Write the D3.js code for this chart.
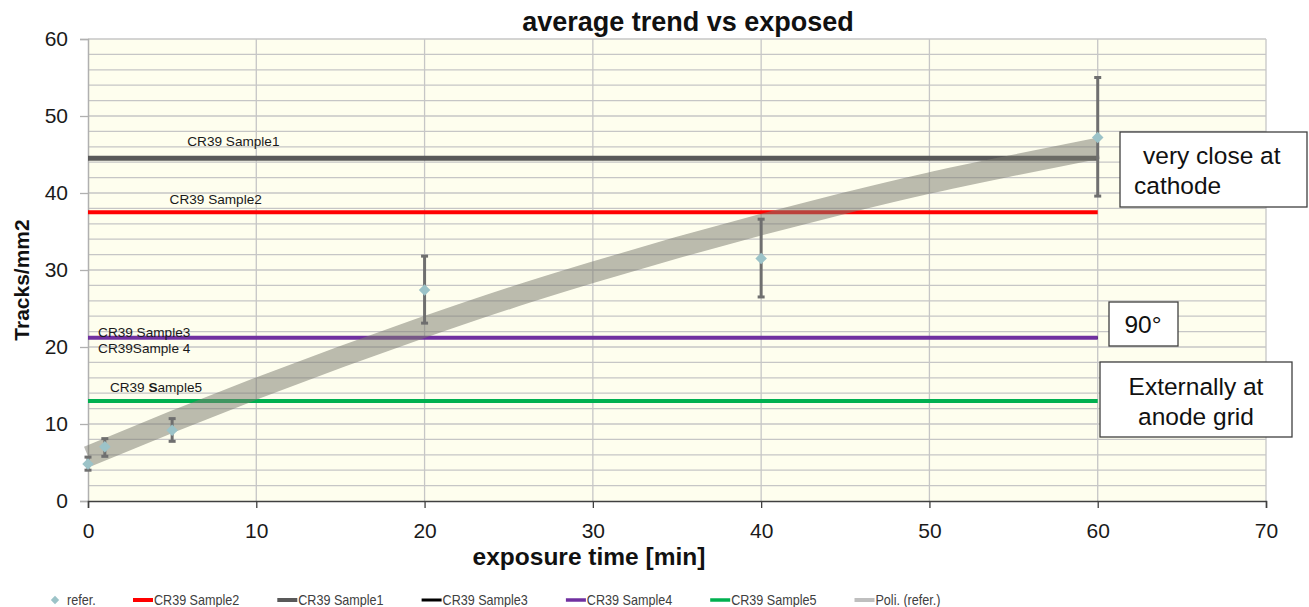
<!DOCTYPE html>
<html>
<head>
<meta charset="utf-8">
<script src="https://cdn.jsdelivr.net/npm/d3@7"></script>
<style>
  body { margin: 0; background: #fff; }
  svg { font-family: "Liberation Sans", Arial, sans-serif; }
</style>
</head>
<body>
<script>
const referTimes = [0, 1, 5, 20, 40, 60];
const referMean = [4.8, 7.05, 9.2, 27.4, 31.5, 47.2];
const referLow = [4.0, 5.8, 7.75, 23.1, 26.5, 39.6];
const referHigh = [5.7, 8.1, 10.7, 31.8, 36.6, 55.0];

// polynomial trend of refer. as drawn
const trendTimes = [0, 5, 10, 15, 20, 25, 30, 35, 40, 45, 50, 55, 60];
const trendValues = [5.8, 10.3, 14.6, 18.7, 22.6, 26.3, 29.7, 32.9, 35.9, 38.7, 41.3, 43.6, 45.8];

// CR39 sample levels (flat over the exposure span)
const sampleNames = ["CR39 Sample1", "CR39 Sample2", "CR39 Sample3", "CR39 Sample4", "CR39 Sample5"];
const sampleValues = [44.5, 37.5, 21.2, 21.2, 13.0];
const sampleSpan = [0, 60];

const xTicks = [0, 10, 20, 30, 40, 50, 60, 70];
const yTicks = [0, 10, 20, 30, 40, 50, 60];

const W = 1309, H = 607;
const svg = d3.select("body").append("svg").attr("width", W).attr("height", H);

const x = d3.scaleLinear().domain([0, 70]).range([88, 1266]);
const y = d3.scaleLinear().domain([0, 60]).range([501, 39]);

const sampleStyle = {
    "CR39 Sample1": { color: "#595959", width: 5 },
    "CR39 Sample2": { color: "#FF0000", width: 4 },
    "CR39 Sample3": { color: "#000000", width: 2.5 },
    "CR39 Sample4": { color: "#7030A0", width: 4 },
    "CR39 Sample5": { color: "#00B050", width: 4 },
};

// plot background
svg.append("rect")
    .attr("x", x(0)).attr("y", y(60))
    .attr("width", x(70) - x(0)).attr("height", y(0) - y(60))
    .attr("fill", "#FEFEEE");

// horizontal grid every 2
svg.append("g")
    .selectAll("line")
    .data(d3.range(2, 61, 2))
    .join("line")
    .attr("x1", x(0)).attr("x2", x(70))
    .attr("y1", (d) => y(d)).attr("y2", (d) => y(d))
    .attr("stroke", "#C6C6C6")
    .attr("stroke-width", 1.3);

// vertical grid every 10
svg.append("g")
    .selectAll("line")
    .data(xTicks.slice(1))
    .join("line")
    .attr("x1", (d) => x(d)).attr("x2", (d) => x(d))
    .attr("y1", y(0)).attr("y2", y(60))
    .attr("stroke", "#C6C6C6")
    .attr("stroke-width", 1.3);

// axes
let yAxis = svg.append("g")
    .attr("transform", `translate(${x(0)},0)`)
    .call(d3.axisLeft(y).tickValues(yTicks).tickSize(8).tickPadding(12));
yAxis.select(".domain").attr("stroke", "#B0B0B0").attr("stroke-width", 1.5);
yAxis.selectAll(".tick line").attr("stroke", "#B0B0B0").attr("stroke-width", 1.3);
yAxis.selectAll(".tick text")
    .attr("font-size", 21).attr("fill", "#1a1a1a")
    .attr("font-family", "Liberation Sans, Arial, sans-serif");

let xAxis = svg.append("g")
    .attr("transform", `translate(0,${y(0)})`)
    .call(d3.axisBottom(x).tickValues(xTicks).tickSize(7).tickPadding(15));
xAxis.select(".domain").attr("stroke", "#404040").attr("stroke-width", 1.5);
xAxis.selectAll(".tick line").attr("stroke", "#404040").attr("stroke-width", 1.3);
xAxis.selectAll(".tick text")
    .attr("font-size", 21).attr("fill", "#1a1a1a")
    .attr("font-family", "Liberation Sans, Arial, sans-serif");

// sample lines (Sample3 drawn first, Sample4 on top of it)
let order = [2, 3, 0, 1, 4];
svg.append("g")
    .selectAll("line")
    .data(order.map((i) => ({ name: sampleNames[i], v: sampleValues[i] })))
    .join("line")
    .attr("x1", x(sampleSpan[0])).attr("x2", x(sampleSpan[1]))
    .attr("y1", (d) => y(d.v)).attr("y2", (d) => y(d.v))
    .attr("stroke", (d) => sampleStyle[d.name].color)
    .attr("stroke-width", (d) => sampleStyle[d.name].width);

// trend band
let trendLine = d3.line()
    .x((d, i) => x(trendTimes[i]))
    .y((d) => y(d))
    .curve(d3.curveMonotoneX);
svg.append("path")
    .attr("d", trendLine(trendValues))
    .attr("fill", "none")
    .attr("stroke", "#7d7d72")
    .attr("stroke-opacity", 0.52)
    .attr("stroke-width", 21);

// error bars
let eb = svg.append("g").attr("stroke", "#6f6f6f");
eb.selectAll("line.v")
    .data(referTimes)
    .join("line")
    .attr("class", "v")
    .attr("x1", (d) => x(d)).attr("x2", (d) => x(d))
    .attr("y1", (d, i) => y(referLow[i])).attr("y2", (d, i) => y(referHigh[i]))
    .attr("stroke-width", 3);
["low", "high"].forEach(function (k) {
    let arr = k === "low" ? referLow : referHigh;
    eb.selectAll("line." + k)
        .data(referTimes)
        .join("line")
        .attr("class", k)
        .attr("x1", (d) => x(d) - 3.5).attr("x2", (d) => x(d) + 3.5)
        .attr("y1", (d, i) => y(arr[i])).attr("y2", (d, i) => y(arr[i]))
        .attr("stroke-width", 3);
});

// refer markers
let diamond = d3.symbol().type(d3.symbolDiamond2).size(85);
svg.append("g")
    .selectAll("path")
    .data(referTimes)
    .join("path")
    .attr("d", diamond)
    .attr("transform", (d, i) => `translate(${x(d)},${y(referMean[i])})`)
    .attr("fill", "#9CC3C8");

// labels on sample lines
let lab = svg.append("g").attr("font-size", 13.6).attr("fill", "#1a1a1a");
lab.append("text").attr("x", x(5.9)).attr("y", y(sampleValues[0]) - 12).text(sampleNames[0]);
lab.append("text").attr("x", x(4.85)).attr("y", y(sampleValues[1]) - 8).text(sampleNames[1]);
lab.append("text").attr("x", x(0.6)).attr("y", y(sampleValues[2]) - 1).text(sampleNames[2]);
lab.append("text").attr("x", x(0.6)).attr("y", y(sampleValues[3]) + 15).text("CR39Sample 4");
let s5 = lab.append("text").attr("x", x(1.3)).attr("y", y(sampleValues[4]) - 9);
s5.append("tspan").text("CR39 ");
s5.append("tspan").attr("font-weight", "bold").text("S");
s5.append("tspan").text("ample5");

// annotation boxes
function box(x0, y0, w, h, lines, anchor, tx, ty) {
    svg.append("rect")
        .attr("x", x0).attr("y", y0).attr("width", w).attr("height", h)
        .attr("fill", "#fff").attr("stroke", "#404040").attr("stroke-width", 1.3);
    let t = svg.append("text").attr("font-size", 24.5).attr("fill", "#111")
        .attr("text-anchor", anchor);
    lines.forEach(function (s, i) {
        t.append("tspan").attr("x", tx[i]).attr("y", ty[i]).text(s);
    });
}
box(1120, 132, 187, 75, ["very close at", "cathode"], "start", [1143, 1134], [164, 194]);
box(1109, 302, 69, 44, ["90°"], "middle", [1143], [333]);
box(1100, 362, 192, 75, ["Externally at", "anode grid"], "middle", [1196, 1196], [395, 425]);

// titles
svg.append("text")
    .attr("x", 688).attr("y", 31)
    .attr("text-anchor", "middle")
    .attr("font-size", 27).attr("font-weight", "bold").attr("fill", "#111")
    .text("average trend vs exposed");
svg.append("text")
    .attr("x", 589).attr("y", 565)
    .attr("text-anchor", "middle")
    .attr("font-size", 24.5).attr("font-weight", "bold").attr("fill", "#111")
    .text("exposure time [min]");
svg.append("text")
    .attr("transform", "translate(29,280) rotate(-90)")
    .attr("text-anchor", "middle")
    .attr("font-size", 21).attr("font-weight", "bold").attr("fill", "#111")
    .text("Tracks/mm2");

// legend
const legendItems = [
    { name: "refer.", kind: "marker", color: "#9CC3C8" },
    { name: "CR39 Sample2", kind: "line", color: "#FF0000", width: 4 },
    { name: "CR39 Sample1", kind: "line", color: "#595959", width: 4 },
    { name: "CR39 Sample3", kind: "line", color: "#000000", width: 3 },
    { name: "CR39 Sample4", kind: "line", color: "#7030A0", width: 3.5 },
    { name: "CR39 Sample5", kind: "line", color: "#00B050", width: 3.5 },
    { name: "Poli. (refer.)", kind: "line", color: "#BFBFBF", width: 4 },
];
let lg = svg.append("g").attr("transform", "translate(0,600)");
let li = lg.selectAll("g")
    .data(legendItems)
    .join("g")
    .attr("transform", (d, i) => `translate(${i === 0 ? 55 : 133 + (i - 1) * 144.3},0)`);
li.filter((d) => d.kind === "line")
    .append("line")
    .attr("x1", 0).attr("x2", 20)
    .attr("stroke", (d) => d.color)
    .attr("stroke-width", (d) => d.width);
li.filter((d) => d.kind === "marker")
    .append("path")
    .attr("d", d3.symbol().type(d3.symbolDiamond2).size(45))
    .attr("fill", (d) => d.color);
li.append("text")
    .attr("y", 5)
    .attr("font-size", 14)
    .attr("fill", "#404040")
    .attr("transform", "scale(0.9,1)")
    .attr("x", (d) => (d.kind === "marker" ? 13.3 : 23.3))
    .text((d) => d.name);
</script>
</body>
</html>
